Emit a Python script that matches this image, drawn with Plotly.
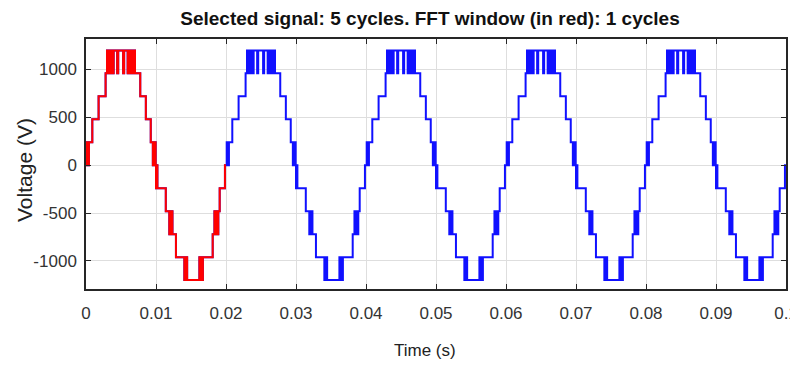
import plotly.graph_objects as go

# ---------------- data ----------------
# one 20 ms cycle of the staircase inverter voltage: breakpoints (ms) and level (V)
cycle_t_ms = [0.00, 0.10, 0.18, 0.26, 0.34, 0.42, 0.90, 1.80, 2.80,
              3.00, 3.15, 3.30, 3.45, 3.60, 3.80, 3.95, 4.45, 4.60, 5.30,
              5.45, 5.95, 6.10, 6.35, 6.50, 6.70, 6.85, 7.00,
              7.75, 8.55, 9.25, 9.55, 9.65, 9.75, 9.85, 9.95,
              10.00, 10.10, 10.20, 11.40, 11.90, 12.00, 12.10, 12.20, 12.35,
              12.85, 14.05, 14.15, 14.25, 14.35, 14.45, 16.20, 16.30, 16.45,
              16.55, 16.70, 18.10, 18.35, 18.50, 18.65, 18.80, 18.90, 19.10,
              19.85]
cycle_v = [0, 240, 0, 240, 0, 240, 480, 720, 960,
           1200, 960, 1200, 960, 1200, 960, 1200, 960, 1200, 960,
           1200, 960, 1200, 960, 1200, 960, 1200, 960,
           720, 480, 240, 0, 240, 0, 240, 0,
           -240, 0, -240, -480, -720, -480, -720, -480, -720,
           -960, -1200, -960, -1200, -960, -1200, -960, -1200, -960,
           -1200, -960, -720, -480, -720, -480, -720, -480, -240,
           0]
n_cycles = 5
fft_cycles = 1
period_ms = 20.0

x_tickvals = [0, 0.01, 0.02, 0.03, 0.04, 0.05, 0.06, 0.07, 0.08, 0.09, 0.1]
x_ticktext = ["0", "0.01", "0.02", "0.03", "0.04", "0.05", "0.06", "0.07", "0.08", "0.09", "0.1"]
y_tickvals = [-1000, -500, 0, 500, 1000]
y_ticktext = ["-1000", "-500", "0", "500", "1000"]

title_text = "Selected signal: 5 cycles. FFT window (in red): 1 cycles"
x_title = "Time (s)"
y_title = "Voltage (V)"

# ---------------- build series ----------------
def build(ncyc):
    t, v = [], []
    for k in range(ncyc):
        for tm, lv in zip(cycle_t_ms, cycle_v):
            t.append((k * period_ms + tm) / 1000.0)
            v.append(lv)
    t.append(ncyc * period_ms / 1000.0)
    v.append(cycle_v[-1])
    return t, v

t_all, v_all = build(n_cycles)
t_win, v_win = build(fft_cycles)

FONT = "Liberation Sans, Arial, sans-serif"

fig = go.Figure()
fig.add_trace(go.Scatter(x=t_all, y=v_all, mode="lines", line=dict(color="#1010ff", width=2, shape="hv"),
                         showlegend=False, hoverinfo="skip"))
fig.add_trace(go.Scatter(x=t_win, y=v_win, mode="lines", line=dict(color="#ff0000", width=2, shape="hv"),
                         showlegend=False, hoverinfo="skip"))

axis_common = dict(showline=True, linecolor="#262626", linewidth=1.5, mirror="allticks",
                   ticks="inside", ticklen=5, tickcolor="#262626", showgrid=True,
                   gridcolor="#dedede", gridwidth=1, zeroline=False, automargin=False,
                   tickfont=dict(family=FONT, size=17, color="#333333"))

fig.update_layout(
    width=790, height=365,
    margin=dict(l=86, r=4, t=39, b=76, autoexpand=False),
    paper_bgcolor="white", plot_bgcolor="white",
    xaxis=dict(range=[0, 0.1000001], tickvals=x_tickvals, ticktext=x_ticktext,
               ticklabelstandoff=8, ticklabeloverflow="allow", **axis_common),
    yaxis=dict(range=[-1293, 1319], tickvals=y_tickvals, ticktext=y_ticktext,
               ticklabelstandoff=4, **axis_common),
    title=dict(text="<b>" + title_text + "</b>", x=430 / 790, xanchor="center",
               y=1 - 18 / 365, yanchor="middle", yref="container",
               font=dict(family=FONT, size=19, color="#111111")),
    annotations=[
        dict(text=x_title, xref="paper", yref="paper", x=(425 - 86) / 700, y=0,
             xanchor="center", yanchor="middle",
             yshift=-61, showarrow=False, font=dict(family=FONT, size=17, color="#222222")),
        dict(text=y_title, xref="paper", yref="paper", x=0, y=(289 - 170) / 250,
             xanchor="center", yanchor="middle",
             xshift=-62, textangle=-90, showarrow=False, font=dict(family=FONT, size=21, color="#222222")),
    ],
)

fig.write_html("out.html")
